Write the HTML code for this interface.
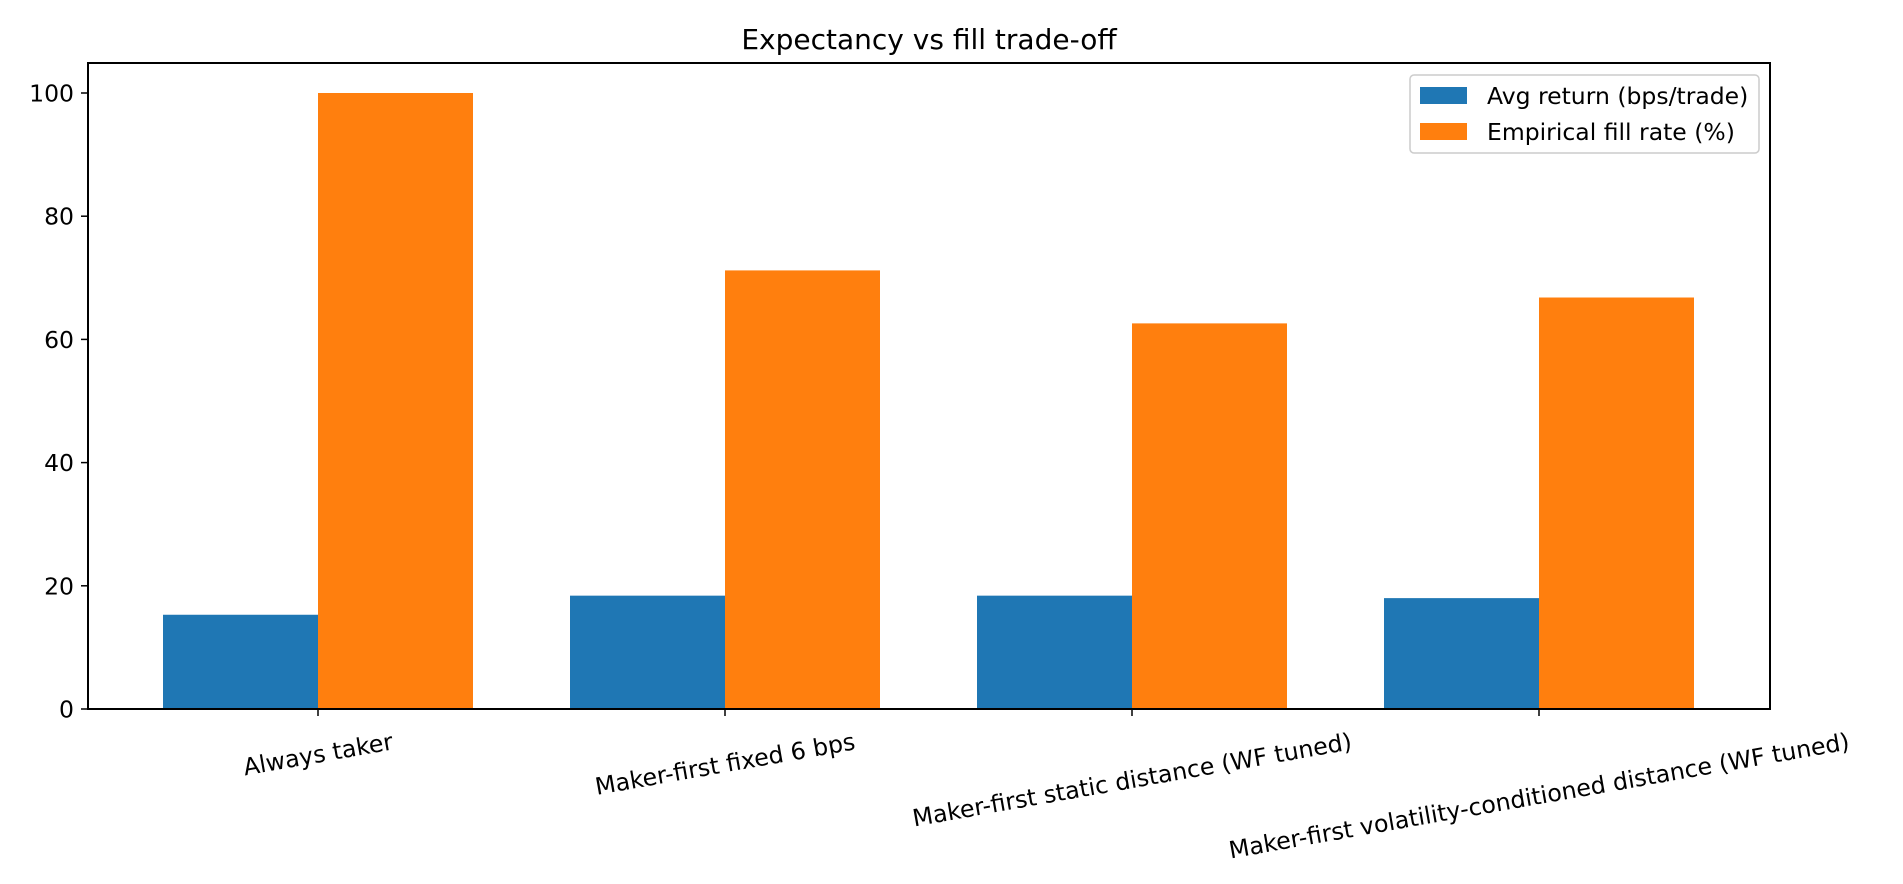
<!DOCTYPE html>
<html><head><meta charset="utf-8"><style>
html,body{margin:0;padding:0;background:#fff;}
svg{display:block;font-family:"DejaVu Sans","Liberation Sans",sans-serif;}
</style></head><body>
<svg id="s" width="1903" height="884" viewBox="0 0 1903 884" xmlns="http://www.w3.org/2000/svg">
<text x="929" y="49" font-size="28" text-anchor="middle">Expectancy vs fill trade-off</text>
<g id="bars"></g>
<rect x="88" y="63" width="1682" height="646" fill="none" stroke="#000" stroke-width="2"/>
<g id="yt" font-size="23.5" text-anchor="end"></g>
<g id="xt" font-size="23.7" text-anchor="middle"></g>
<rect x="1410" y="75" width="349" height="78" rx="4" fill="#fff" fill-opacity="0.8" stroke="#ccc" stroke-width="1.5"/>
<rect x="1420" y="87" width="47" height="17" fill="#1f77b4"/>
<rect x="1420" y="123" width="47" height="17" fill="#ff7f0e"/>
<text x="1487" y="104" font-size="23.5">Avg return (bps/trade)</text>
<text x="1487" y="140" font-size="23.5">Empirical fill rate (%)</text>
</svg>
<script>
var NS="http://www.w3.org/2000/svg";
function el(p,t,a,txt){var e=document.createElementNS(NS,t);for(var k in a)e.setAttribute(k,a[k]);if(txt!=null)e.textContent=txt;p.appendChild(e);return e;}
var y0=709,k=6.16,ticks=[318,725,1132,1539],bw=155;
var blue=[15.3,18.4,18.4,18.0],orange=[100,71.2,62.6,66.8];
var b=document.getElementById('bars');
for(var i=0;i<4;i++){
 el(b,'rect',{x:ticks[i]-bw,y:y0-blue[i]*k,width:bw,height:blue[i]*k,fill:'#1f77b4'});
 el(b,'rect',{x:ticks[i],y:y0-orange[i]*k,width:bw,height:orange[i]*k,fill:'#ff7f0e'});
}
var yt=document.getElementById('yt');
for(var v=0;v<=100;v+=20){var y=y0-v*k;
 el(yt,'line',{x1:81,x2:88,y1:y,y2:y,stroke:'#000','stroke-width':1.5});
 el(yt,'text',{x:74,y:y+8.5},String(v));}
var xt=document.getElementById('xt');
var labs=["Always taker","Maker-first fixed 6 bps","Maker-first static distance (WF tuned)","Maker-first volatility-conditioned distance (WF tuned)"];
var A=10;
for(var i=0;i<4;i++){
 el(xt,'line',{x1:ticks[i],x2:ticks[i],y1:709,y2:716,stroke:'#000','stroke-width':1.5});
 var t=el(xt,'text',{x:0,y:0},labs[i]);
 var w=t.getComputedTextLength();
 var s=Math.sin(A*Math.PI/180),c=Math.cos(A*Math.PI/180);
 var bh=w*s+28*c; var cy=727+bh/2;
 t.setAttribute('transform','translate('+ticks[i]+','+cy+') rotate(-'+A+') translate(0,8.5)');
}
</script>
</body></html>
